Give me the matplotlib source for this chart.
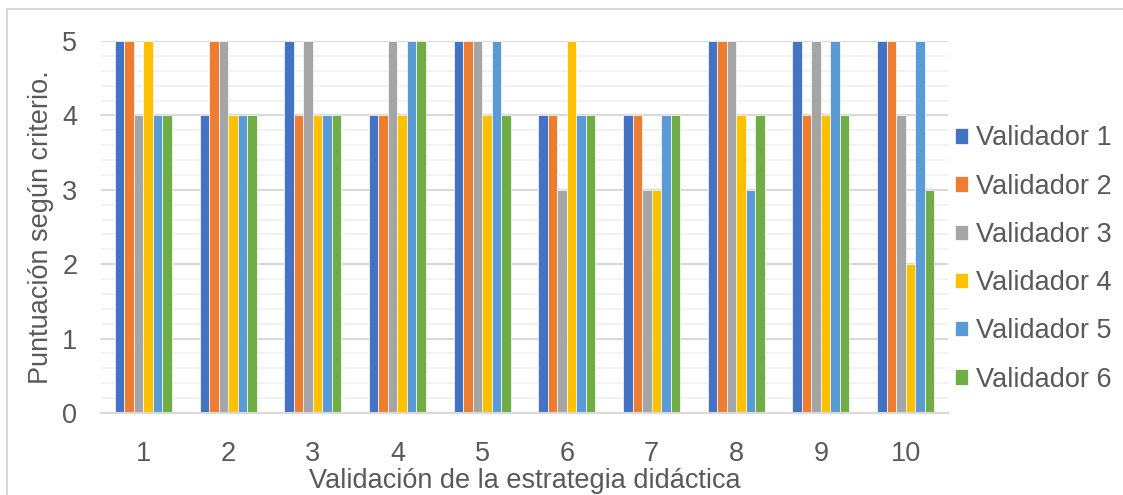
import matplotlib
matplotlib.use("Agg")
import matplotlib.pyplot as plt
from matplotlib.patches import Rectangle
from matplotlib.ticker import MultipleLocator
import numpy as np

plt.rcParams['font.family'] = ['Liberation Sans', 'DejaVu Sans']

categorias = [1, 2, 3, 4, 5, 6, 7, 8, 9, 10]
validador1 = [5, 4, 5, 4, 5, 4, 4, 5, 5, 5]
validador2 = [5, 5, 4, 4, 5, 4, 4, 5, 4, 5]
validador3 = [4, 5, 5, 5, 5, 3, 3, 5, 5, 4]
validador4 = [5, 4, 4, 4, 4, 5, 3, 4, 4, 2]
validador5 = [4, 4, 4, 5, 5, 4, 4, 3, 5, 5]
validador6 = [4, 4, 4, 5, 4, 4, 4, 4, 4, 3]

series = [validador1, validador2, validador3, validador4, validador5, validador6]
nombres = ["Validador 1", "Validador 2", "Validador 3",
           "Validador 4", "Validador 5", "Validador 6"]
colores = ["#4472C4", "#ED7D31", "#A5A5A5", "#FFC000", "#5B9BD5", "#70AD47"]

gris = "#595959"
fs = 19.5

fig = plt.figure(figsize=(11.23, 4.95), dpi=100)
ax = fig.add_axes([101 / 1123, 1 - 413 / 495, 847 / 1123, 372 / 495])

x = np.array(categorias)
w = 0.112
for i, (vals, nombre, col) in enumerate(zip(series, nombres, colores)):
    ax.bar(x + (i - 2.5) * w, vals, width=w, color=col, label=nombre,
           edgecolor="white", linewidth=0.5, zorder=3)

ax.set_xlim(0.5, 10.5)
ax.set_ylim(0, 5)
ax.yaxis.set_major_locator(MultipleLocator(1))
ax.yaxis.set_minor_locator(MultipleLocator(0.2))
ax.set_xticks(categorias)
ax.grid(axis="y", which="major", color="#d9d9d9", linewidth=1.5, zorder=0)
ax.grid(axis="y", which="minor", color="#f2f2f2", linewidth=1.5, zorder=0)
ax.tick_params(axis="both", which="both", length=0, labelsize=fs, labelcolor=gris)
ax.tick_params(axis="x", pad=20)
ax.tick_params(axis="y", pad=17)
for s in ["top", "right", "left"]:
    ax.spines[s].set_visible(False)
ax.spines["bottom"].set_color("#d9d9d9")
ax.spines["bottom"].set_linewidth(1.5)
ax.spines["bottom"].set_zorder(4)

ax.set_xlabel("Validación de la estrategia didáctica", fontsize=fs, color=gris, labelpad=1)
ax.set_ylabel("Puntuación según criterio.", fontsize=fs, color=gris, labelpad=6)

ax.legend(loc="center left", bbox_to_anchor=(0.995, 0.414), frameon=False,
          fontsize=fs, labelcolor=gris, handlelength=0.5, handleheight=0.5,
          handletextpad=0.3, labelspacing=0.82, borderaxespad=0)

fig.patches.append(Rectangle((7 / 1123, -0.1), 1.2, 1.1 - 9 / 495,
                             transform=fig.transFigure, fill=False,
                             edgecolor="#d9d9d9", linewidth=1.5))

fig.savefig("out.png", dpi=100)
